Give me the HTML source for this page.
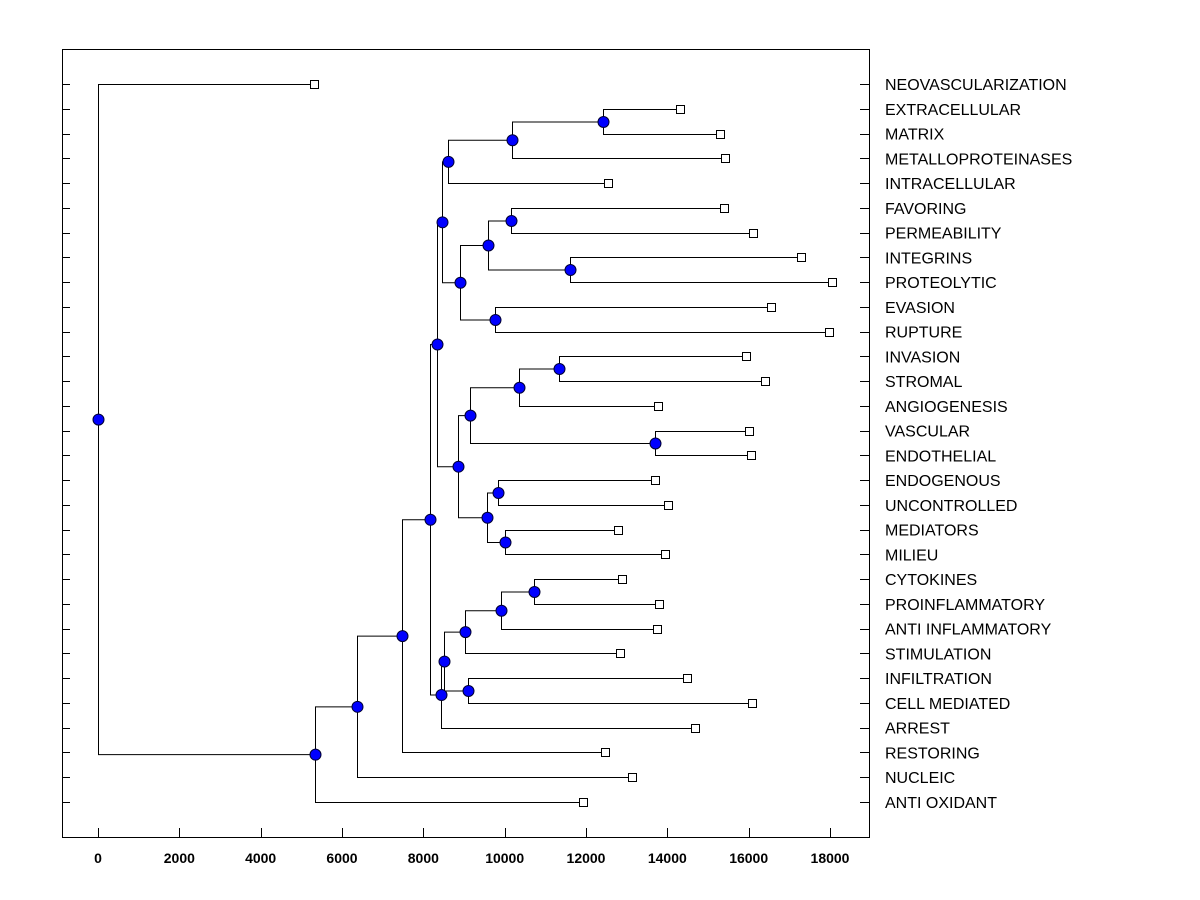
<!DOCTYPE html>
<html><head><meta charset="utf-8"><style>html,body{margin:0;padding:0;background:#fff}svg{display:block}</style></head>
<body>
<svg id="chart" width="1200" height="900" xmlns="http://www.w3.org/2000/svg" font-family="'Liberation Sans', Arial, sans-serif"></svg>
<script>
const leafNames = ["NEOVASCULARIZATION","EXTRACELLULAR","MATRIX","METALLOPROTEINASES","INTRACELLULAR","FAVORING","PERMEABILITY","INTEGRINS","PROTEOLYTIC","EVASION","RUPTURE","INVASION","STROMAL","ANGIOGENESIS","VASCULAR","ENDOTHELIAL","ENDOGENOUS","UNCONTROLLED","MEDIATORS","MILIEU","CYTOKINES","PROINFLAMMATORY","ANTI INFLAMMATORY","STIMULATION","INFILTRATION","CELL MEDIATED","ARREST","RESTORING","NUCLEIC","ANTI OXIDANT"];
const leafValues = [5311,14311,15294,15417,12540,15392,16105,17285,18048,16548,17974,15933,16400,13769,16007,16056,13695,14015,12786,13941,12884,13794,13745,12835,14483,16080,14680,12466,13130,11925];
// merges: [childA, childB, height]; leaves are indices, internal nodes "n<k>"
const merges = [
 [1,2,12417],["n0",3,10180],["n1",4,8606],[5,6,10155],[7,8,11606],["n3","n4",9590],[9,10,9762],["n5","n6",8901],["n2","n7",8458],
 [11,12,11335],["n9",13,10352],[14,15,13695],["n10","n11",9147],[16,17,9835],[18,19,10007],["n13","n14",9565],["n12","n15",8852],["n8","n16",8336],
 [20,21,10721],["n18",22,9909],["n19",23,9024],[24,25,9098],["n20","n21",8508],["n22",26,8434],["n17","n23",8163],["n24",27,7475],["n25",28,6368],["n26",29,5335],[0,"n27",0]
];
const xTicks = [0,2000,4000,6000,8000,10000,12000,14000,16000,18000];

const svg = document.getElementById('chart');
const NS = "http://www.w3.org/2000/svg";
const L=62,R=869,T=49,B=837;
const xs = v => 98 + v*(830-98)/18000;
const ys = i => 84 + i*(802-84)/29;
function mk(tag, attrs, parent){const e=document.createElementNS(NS,tag);for(const k in attrs)e.setAttribute(k,attrs[k]);(parent||svg).appendChild(e);return e;}
const frame = mk('rect',{x:L+0.5,y:T+0.5,width:R-L,height:B-T,fill:'none',stroke:'#000','stroke-width':1});


xTicks.forEach(t=>{
  const x=Math.round(xs(t))+0.5;
  const tk=mk('line',{x1:x,x2:x,y1:B,y2:B-9,stroke:'#000'});
  
  
  const tl=mk('text',{x:xs(t),y:863,'text-anchor':'middle','font-size':14,'font-weight':'bold',fill:'#000'});
  tl.textContent=t;
  
  
});
leafNames.forEach((n,i)=>{
  const y=Math.round(ys(i))+0.5;
  const a=mk('line',{x1:L,x2:L+8,y1:y,y2:y,stroke:'#000'});
  
  
  const b=mk('line',{x1:R-9,x2:R,y1:y,y2:y,stroke:'#000'});
  
  
  const t=mk('text',{x:885,y:ys(i)+6,'font-size':16,fill:'#000'});
  t.textContent=n;
  
  
});
const pos = {};
leafNames.forEach((n,i)=>{pos[i]={x:Math.round(xs(leafValues[i]))+0.5,y:Math.round(ys(i))+0.5};});
const g = mk('g',{stroke:'#000','stroke-width':1,fill:'none'});


const dots=[];
merges.forEach((m,k)=>{
  const a=pos[m[0]], b=pos[m[1]], x=Math.round(xs(m[2]))+0.5;
  const y=(a.y+b.y)/2;
  const p=mk('path',{d:`M${a.x},${a.y}H${x}V${b.y}H${b.x}`},g);
  
  
  pos['n'+k]={x:x,y:y};
  dots.push([x,y]);
});
leafNames.forEach((n,i)=>{
  const s=mk('rect',{x:pos[i].x-4,y:pos[i].y-4,width:8,height:8,fill:'#fff',stroke:'#000'});
  
  
});
dots.forEach(d=>{
  const c=mk('circle',{cx:d[0],cy:d[1],r:5.5,fill:'#0000ff',stroke:'#000033','stroke-width':1});
  
  
});
</script>
</body></html>
